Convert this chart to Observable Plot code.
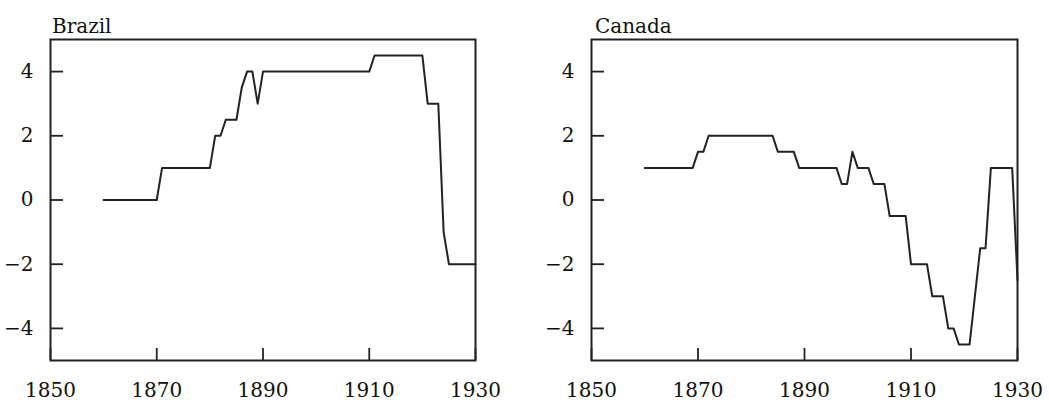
<!DOCTYPE html>
<html>
<head>
<meta charset="utf-8">
<script src="https://cdn.jsdelivr.net/npm/d3@7"></script>
<script src="https://cdn.jsdelivr.net/npm/@observablehq/plot@0.6"></script>
<style>
  html, body { margin: 0; padding: 0; background: #fff; overflow: hidden; }
  #row { display: flex; width: 1049px; height: 403px; }
  .panel { position: relative; }
  .title {
    box-sizing: border-box; height: 36px; padding-top: 14px; line-height: 24px;
    font-family: "DejaVu Serif", serif; font-size: 20px; color: #111; white-space: nowrap;
  }
  svg { display: block; }
</style>
</head>
<body>
<div id="row"></div>
<script>
const years = [
  1860,1861,1862,1863,1864,1865,1866,1867,1868,1869,
  1870,1871,1872,1873,1874,1875,1876,1877,1878,1879,
  1880,1881,1882,1883,1884,1885,1886,1887,1888,1889,
  1890,1891,1892,1893,1894,1895,1896,1897,1898,1899,
  1900,1901,1902,1903,1904,1905,1906,1907,1908,1909,
  1910,1911,1912,1913,1914,1915,1916,1917,1918,1919,
  1920,1921,1922,1923,1924,1925,1926,1927,1928,1929,
  1930
];
const brazil = [
  0,0,0,0,0,0,0,0,0,0,
  0,1,1,1,1,1,1,1,1,1,
  1,2,2,2.5,2.5,2.5,3.5,4,4,3,
  4,4,4,4,4,4,4,4,4,4,
  4,4,4,4,4,4,4,4,4,4,
  4,4.5,4.5,4.5,4.5,4.5,4.5,4.5,4.5,4.5,
  4.5,3,3,3,-1,-2,-2,-2,-2,-2,
  -2
];
const canada = [
  1,1,1,1,1,1,1,1,1,1,
  1.5,1.5,2,2,2,2,2,2,2,2,
  2,2,2,2,2,1.5,1.5,1.5,1.5,1,
  1,1,1,1,1,1,1,0.5,0.5,1.5,
  1,1,1,0.5,0.5,0.5,-0.5,-0.5,-0.5,-0.5,
  -2,-2,-2,-2,-3,-3,-3,-4,-4,-4.5,
  -4.5,-4.5,-3,-1.5,-1.5,1,1,1,1,1,
  -2.5
];
const xTicks = [1850, 1870, 1890, 1910, 1930];
const yTicks = [-4, -2, 0, 2, 4];
const panels = [
  {name: "Brazil", values: brazil, width: 524, marginLeft: 50, marginRight: 49, titlePad: 52},
  {name: "Canada", values: canada, width: 525, marginLeft: 67, marginRight: 32, titlePad: 71}
];

const H = 367, MT = 3, MB = 43;
const row = document.getElementById("row");
for (const p of panels) {
  const data = years.map((y, i) => ({year: y, value: p.values[i]}));
  const innerW = p.width - p.marginLeft - p.marginRight;
  const innerH = H - MT - MB;
  const div = document.createElement("div");
  div.className = "panel";
  div.style.width = p.width + "px";
  const t = document.createElement("div");
  t.className = "title";
  t.style.paddingLeft = p.titlePad + "px";
  t.textContent = p.name;
  div.appendChild(t);
  const chart = Plot.plot({
    width: p.width,
    height: H,
    marginTop: MT,
    marginBottom: MB,
    marginLeft: p.marginLeft,
    marginRight: p.marginRight,
    style: {fontFamily: "DejaVu Serif, serif", fontSize: "20px", color: "#111", background: "#fff"},
    x: {domain: [1850, 1930], label: null},
    y: {domain: [-5, 5], label: null},
    marks: [
      Plot.axisY({ticks: yTicks, tickSize: 0, tickPadding: 17, tickFormat: d => d3.format("d")(d).replace("-", "\u2212"), label: null}),
      Plot.axisX({ticks: xTicks, tickSize: 0, tickPadding: 22, tickFormat: d => String(d), label: null}),
      Plot.ruleY(yTicks, {stroke: "#222", strokeWidth: 1.8, insetRight: innerW - 13}),
      Plot.ruleX(xTicks, {stroke: "#222", strokeWidth: 1.8, insetTop: innerH - 12}),
      Plot.line(data, {x: "year", y: "value", stroke: "#222", strokeWidth: 2, strokeLinejoin: "round"}),
      Plot.frame({stroke: "#222", strokeWidth: 2})
    ]
  });
  div.appendChild(chart);
  row.appendChild(div);
}
</script>
</body>
</html>
